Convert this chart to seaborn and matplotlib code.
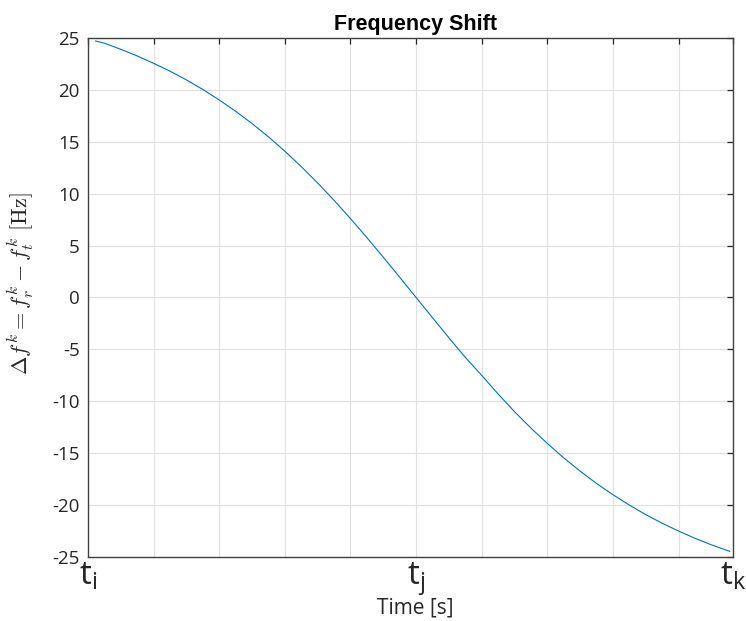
import matplotlib
matplotlib.use('Agg')
import matplotlib.pyplot as plt
import seaborn as sns
import pandas as pd

# values (x in grid units, t_j at 5)
time_pts = [0.11, 0.25, 0.5, 0.75, 1.0, 1.25, 1.5, 1.75, 2.0, 2.25, 2.5, 2.75,
            3.0, 3.25, 3.5, 3.75, 4.0, 4.25, 4.5, 4.75, 5.0, 5.25, 5.5, 5.75,
            6.0, 6.25, 6.5, 6.75, 7.0, 7.25, 7.5, 7.75, 8.0, 8.25, 8.5, 8.75,
            9.0, 9.25, 9.5, 9.78]
shift_hz = [24.72, 24.50, 23.91, 23.27, 22.56, 21.80, 20.96, 20.04, 19.03, 17.94,
            16.76, 15.48, 14.09, 12.61, 11.03, 9.36, 7.60, 5.77, 3.88, 1.95,
            0.0, -1.95, -3.88, -5.77, -7.5, -9.3, -11.0, -12.58, -14.06, -15.45,
            -16.73, -17.92, -19.0, -20.0, -20.92, -21.75, -22.5, -23.2, -23.83,
            -24.46]
x_end = 9.83
x_ticks = [0, 1, 2, 3, 4, 5, 6, 7, 8, 9, x_end]
x_ticklabels = [r'$\mathregular{t_i}$', '', '', '', '', r'$\mathregular{t_j}$',
                '', '', '', '', r'$\mathregular{t_k}$']
y_ticks = [-25, -20, -15, -10, -5, 0, 5, 10, 15, 20, 25]

sns.set_theme(style='white')
plt.rcParams['font.family'] = ['Open Sans', 'DejaVu Sans']
plt.rcParams['mathtext.fontset'] = 'custom'
plt.rcParams['mathtext.rm'] = 'Open Sans'
plt.rcParams['mathtext.it'] = 'Open Sans:italic'

df = pd.DataFrame({'t': time_pts, 'df': shift_hz})

fig = plt.figure(figsize=(7.46, 6.21), dpi=100)
ax = fig.add_axes([0.118, 0.1031, 0.8646, 0.8357])

sns.lineplot(data=df, x='t', y='df', ax=ax, color='#0072BD', linewidth=0.8)

ax.set_xlim(0, x_end)
ax.set_ylim(-25, 25)
ax.set_xticks(x_ticks)
ax.set_xticklabels(x_ticklabels, fontsize=24)
ax.set_yticks(y_ticks)
ax.set_yticklabels([str(v) for v in y_ticks], fontsize=13.5)

ax.grid(True, color='#e0e0e0', linewidth=0.8)
ax.set_axisbelow(True)
for s in ax.spines.values():
    s.set_color('#404040')
    s.set_linewidth(1.0)
ax.tick_params(direction='in', length=4.5, width=0.9, color='#262626',
               top=True, right=True, labelcolor='#262626')
ax.tick_params(axis='x', pad=2)
ax.tick_params(axis='y', pad=6)

ax.set_title('Frequency Shift', fontsize=15.5, fontweight='bold',
             family='Liberation Sans', color='black', pad=6, x=0.507)
ax.set_xlabel('Time [s]', fontsize=15, color='#262626')
ax.xaxis.set_label_coords(0.507, -0.078)
ax.xaxis.label.set_va('top')
ax.set_ylabel(r'$\Delta f^k = f_r^k - f_t^k\ [\mathrm{Hz}]$', fontsize=16,
              math_fontfamily='cm', color='#262626')
ax.yaxis.set_label_coords(-0.08, 0.527)

fig.savefig('out.png', dpi=100)
